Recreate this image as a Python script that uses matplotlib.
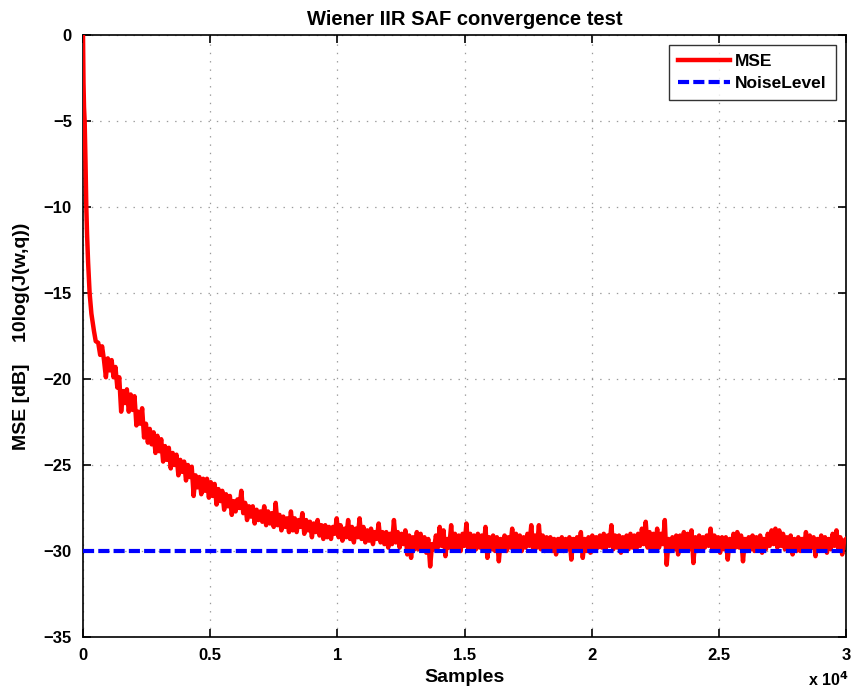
import matplotlib
matplotlib.use("Agg")
import matplotlib.pyplot as plt
from matplotlib.ticker import FixedLocator

plt.rcParams['font.family'] = ['Liberation Sans', 'DejaVu Sans']
plt.rcParams['font.weight'] = 'bold'
plt.rcParams['lines.scale_dashes'] = False

# ---- data ----
# steep initial descent: sample index -> MSE [dB]
early_samples = [0, 20, 40, 65, 100, 130, 160, 200, 260, 330, 430, 500]
early_mse_db = [0.0, -2.8, -4.2, -5.0, -7.5, -10.0, -11.6, -13.2, -15.0, -16.2, -17.2, -17.8]

# remaining curve, one value every 75 samples from 600 to 30000 (8 values per row)
late_start, late_step, late_stop = 600, 75, 30000
late_mse_db = [
    -17.9, -18.6, -18.1, -18.9, -19.9, -18.8, -19.5, -18.9,
    -19.9, -19.3, -20.5, -19.9, -21.9, -20.7, -21.4, -20.6,
    -21.9, -20.9, -21.8, -21.0, -22.7, -21.9, -22.6, -21.7,
    -23.4, -22.6, -23.7, -22.9, -23.8, -23.1, -24.3, -23.3,
    -24.2, -23.5, -24.8, -23.9, -24.7, -24.0, -25.2, -24.3,
    -25.0, -24.4, -25.6, -24.7, -25.4, -24.8, -25.9, -25.0,
    -25.7, -25.1, -26.8, -25.6, -26.3, -25.7, -26.7, -25.8,
    -26.5, -25.8, -26.9, -26.0, -26.8, -26.1, -27.3, -26.4,
    -27.1, -26.5, -27.6, -26.7, -27.4, -26.8, -27.9, -27.1,
    -27.7, -27.0, -27.5, -26.5, -27.8, -27.2, -28.2, -27.4,
    -28.0, -27.4, -28.4, -27.6, -28.2, -27.7, -28.3, -27.4,
    -28.5, -27.7, -28.4, -27.8, -28.6, -27.2, -28.5, -27.9,
    -28.8, -28.0, -28.6, -28.1, -28.9, -27.7, -28.8, -28.1,
    -28.9, -28.2, -28.6, -27.8, -29.0, -28.2, -28.8, -28.3,
    -29.2, -28.4, -28.9, -28.2, -29.1, -28.5, -29.3, -28.5,
    -29.2, -28.6, -29.3, -28.6, -29.0, -28.1, -29.2, -28.5,
    -29.4, -28.7, -29.2, -28.2, -29.3, -28.6, -29.5, -28.7,
    -29.2, -28.1, -29.3, -28.6, -29.5, -28.8, -29.4, -28.7,
    -29.6, -28.9, -29.3, -28.4, -29.5, -28.9, -29.6, -28.9,
    -29.8, -29.0, -29.6, -28.2, -29.5, -28.9, -29.8, -29.0,
    -29.6, -28.8, -30.2, -29.1, -30.4, -29.2, -29.9, -28.9,
    -29.9, -29.0, -29.8, -29.2, -30.1, -29.3, -30.9, -29.6,
    -29.9, -29.1, -29.8, -28.6, -29.7, -28.8, -30.3, -29.3,
    -29.8, -28.5, -29.9, -29.0, -29.8, -29.1, -30.0, -29.0,
    -29.7, -28.4, -29.9, -29.0, -29.8, -29.1, -29.9, -29.0,
    -29.8, -29.1, -29.9, -28.6, -30.4, -29.2, -29.9, -29.1,
    -30.0, -29.2, -30.6, -29.3, -29.9, -29.1, -30.0, -29.2,
    -29.8, -28.7, -29.9, -29.0, -29.8, -29.1, -30.0, -29.2,
    -29.8, -29.0, -29.7, -28.5, -29.9, -29.1, -29.8, -28.5,
    -29.9, -29.1, -30.0, -29.2, -29.9, -29.2, -30.0, -29.3,
    -30.2, -29.3, -29.9, -29.2, -30.0, -29.3, -29.9, -29.2,
    -30.5, -29.3, -29.9, -29.2, -29.8, -28.9, -30.4, -29.3,
    -30.0, -29.2, -30.1, -29.1, -29.9, -29.2, -29.8, -29.1,
    -29.8, -29.0, -29.9, -29.1, -29.7, -28.5, -29.9, -29.1,
    -29.8, -29.1, -30.1, -29.2, -29.9, -29.1, -29.9, -29.0,
    -29.8, -29.1, -29.9, -29.0, -29.7, -28.7, -29.6, -28.3,
    -29.8, -28.9, -29.9, -29.0, -29.8, -28.7, -29.8, -29.0,
    -29.6, -28.2, -30.8, -29.3, -30.0, -29.2, -29.9, -29.1,
    -30.2, -29.1, -29.9, -28.9, -29.8, -29.0, -29.9, -28.8,
    -30.7, -29.2, -30.0, -29.1, -29.9, -29.2, -29.8, -29.1,
    -29.7, -28.7, -29.9, -29.1, -29.8, -29.2, -30.1, -29.2,
    -29.9, -29.2, -30.5, -29.3, -29.9, -29.0, -29.8, -28.9,
    -29.8, -29.1, -30.6, -29.3, -30.0, -29.2, -29.9, -29.1,
    -30.0, -29.2, -29.9, -29.1, -30.1, -29.3, -29.9, -29.0,
    -29.7, -28.8, -29.6, -28.7, -29.8, -28.8, -29.7, -29.0,
    -29.9, -29.2, -29.8, -29.1, -30.2, -29.3, -30.0, -29.2,
    -30.0, -29.3, -29.8, -28.9, -29.9, -29.1, -29.8, -29.2,
    -30.3, -29.3, -30.0, -29.1, -29.9, -29.2, -30.1, -29.3,
    -29.9, -29.0, -29.7, -28.8, -29.9, -29.2, -30.2, -29.4,
    -29.3,
]
noise_samples = [0, 30000]
noise_level_db = [-30, -30]

x_ticks = [0, 5000, 10000, 15000, 20000, 25000, 30000]
x_tick_labels = ['0', '0.5', '1', '1.5', '2', '2.5', '3']
y_ticks = [0, -5, -10, -15, -20, -25, -30, -35]

title = 'Wiener IIR SAF convergence test'
xlabel = 'Samples'
ylabel = 'MSE [dB]    10log(J(w,q))'

late_samples = list(range(late_start, late_stop + 1, late_step))
n_late = min(len(late_samples), len(late_mse_db))
samples = early_samples + late_samples[:n_late]
mse_db = early_mse_db + late_mse_db[:n_late]

fig = plt.figure(figsize=(8.56, 6.96), dpi=100)
ax = fig.add_axes([83/856, 1 - 637/696, (846 - 83)/856, (637 - 35)/696])

ax.plot(samples, mse_db, color='#ff0000', lw=3.2, label='MSE', zorder=3)
ax.plot(noise_samples, noise_level_db, color='#0000ff', lw=3.0,
        linestyle=(0, (8, 3)), label='NoiseLevel', zorder=4)

ax.set_xlim(0, 30000)
ax.set_ylim(-35, 0)
ax.xaxis.set_major_locator(FixedLocator(x_ticks))
ax.set_xticklabels(x_tick_labels)
ax.yaxis.set_major_locator(FixedLocator(y_ticks))
ax.tick_params(direction='in', length=6, width=1.2, top=True, right=True,
               labelsize=12, pad=8)
for lab in ax.get_xticklabels() + ax.get_yticklabels():
    lab.set_fontweight('bold')
for s in ax.spines.values():
    s.set_linewidth(1.2)

ax.grid(True, linestyle=(0, (1, 5)), color='#9a9a9a', linewidth=0.9)

ax.set_title(title, fontsize=14.5, fontweight='bold', pad=7)
ax.set_xlabel(xlabel, fontsize=14, fontweight='bold', labelpad=4)
ax.set_ylabel(ylabel, fontsize=14, fontweight='bold', labelpad=10)
fig.text(808/856, 1 - 686/696, r'x 10$^{\mathbf{4}}$', fontsize=11.5,
         fontweight='bold', ha='left', va='baseline')

leg = ax.legend(loc='upper right', frameon=True, fancybox=False,
                edgecolor='black', handlelength=3.0, borderpad=0.5,
                labelspacing=0.4, handletextpad=0.3, borderaxespad=0.6,
                prop={'weight': 'bold', 'size': 12.5})
leg.get_frame().set_linewidth(1.0)

fig.savefig('out.png', dpi=100)
